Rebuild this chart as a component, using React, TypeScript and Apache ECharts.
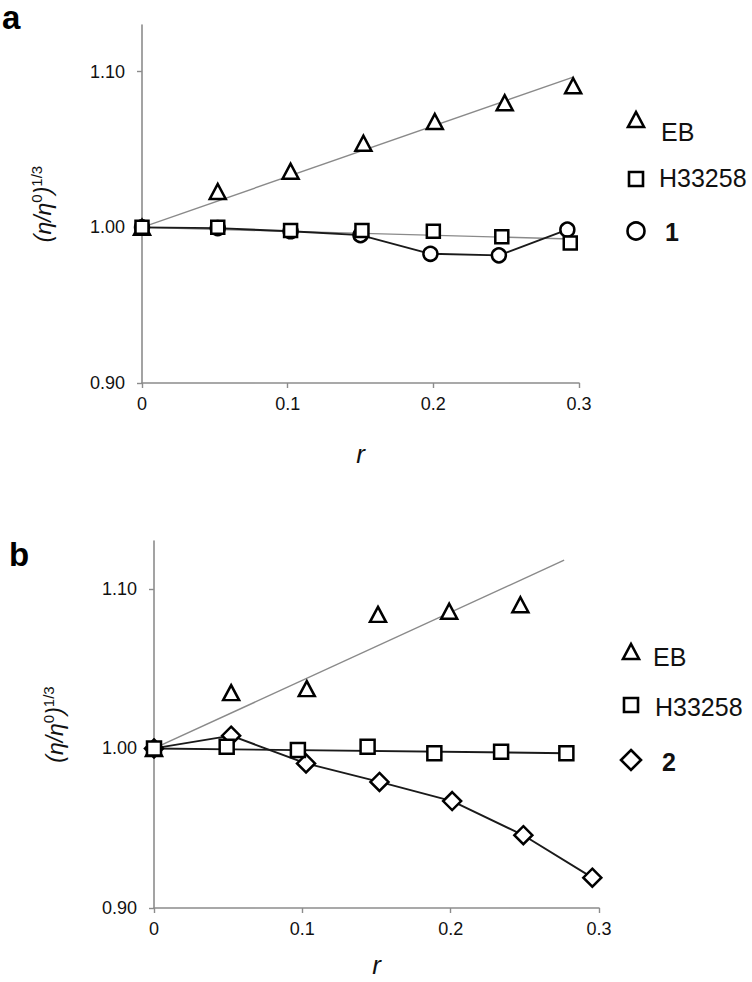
import React, { useEffect, useRef } from "react";
import * as echarts from "echarts";

// ---------- data: panel a ----------
const aEbX = [0, 0.052, 0.102, 0.152, 0.201, 0.249, 0.296];
const aEbY = [1.0, 1.023, 1.036, 1.054, 1.068, 1.08, 1.091];
const aEbTrendX = [0, 0.296];
const aEbTrendY = [1.0, 1.0965];

const aHX = [0, 0.052, 0.102, 0.151, 0.2, 0.247, 0.294];
const aHY = [1.0, 1.0, 0.998, 0.998, 0.9975, 0.994, 0.99];
const aHTrendX = [0, 0.294];
const aHTrendY = [1.0, 0.9925];

const a1X = [0, 0.052, 0.102, 0.15, 0.198, 0.245, 0.292];
const a1Y = [1.0, 0.9995, 0.9975, 0.995, 0.983, 0.982, 0.9985];

// ---------- data: panel b ----------
const bEbX = [0, 0.052, 0.103, 0.151, 0.199, 0.247];
const bEbY = [1.0, 1.035, 1.0375, 1.084, 1.086, 1.09];
const bEbTrendX = [0, 0.2765];
const bEbTrendY = [1.0, 1.118];

const bHX = [0, 0.049, 0.097, 0.144, 0.189, 0.234, 0.278];
const bHY = [1.0, 1.001, 0.999, 1.001, 0.997, 0.998, 0.997];
const bHTrendX = [0, 0.278];
const bHTrendY = [1.0, 0.997];

const b2X = [0, 0.052, 0.1025, 0.152, 0.201, 0.249, 0.2955];
const b2Y = [1.0, 1.008, 0.9906, 0.979, 0.967, 0.9456, 0.919];

// ---------- axis ticks ----------
const yTicks = [0.9, 1.0, 1.1];

const FONT = "'Liberation Sans', Arial, sans-serif";
const AXIS_GRAY = "#8c8c8c";
const TREND_GRAY = "#8a8a8a";
const INK = "#111111";

const zip = (xs: number[], ys: number[]) => xs.map((x, i) => [x, ys[i]]);

function xAxisOf(grid: number, nameGap: number) {
  return {
    type: "value",
    gridIndex: grid,
    min: 0,
    max: 0.3,
    interval: 0.1,
    axisLine: { show: true, onZero: false, lineStyle: { color: AXIS_GRAY, width: 1.6 } },
    axisTick: { show: true, length: 5, lineStyle: { color: AXIS_GRAY, width: 1.4 } },
    splitLine: { show: false },
    axisLabel: {
      fontSize: 18,
      color: INK,
      fontFamily: FONT,
      margin: 12,
      formatter: (v: number) => (v === 0 ? "0" : v.toFixed(1)),
    },
    name: "r",
    nameLocation: "middle",
    nameGap,
    nameTextStyle: { fontSize: 26, fontStyle: "italic", color: INK, fontFamily: FONT },
  };
}

function yAxisOf(grid: number, nameGap: number) {
  return {
    type: "value",
    gridIndex: grid,
    min: 0.9,
    max: 1.13,
    axisLine: { show: true, onZero: false, lineStyle: { color: AXIS_GRAY, width: 1.6 } },
    axisTick: { show: true, length: 5, customValues: yTicks, lineStyle: { color: AXIS_GRAY, width: 1.4 } },
    splitLine: { show: false },
    axisLabel: {
      customValues: yTicks,
      fontSize: 18,
      color: INK,
      fontFamily: FONT,
      margin: 17,
      formatter: (v: number) => v.toFixed(2),
    },
    name: "{i|(η/η}{s|0}{i|)}{s|1/3}",
    nameLocation: "middle",
    nameRotate: 90,
    nameGap,
    nameTextStyle: {
      fontFamily: FONT,
      color: INK,
      rich: {
        i: { fontSize: 23, fontStyle: "italic", fontFamily: FONT, color: INK },
        s: { fontSize: 15, fontFamily: FONT, color: INK, padding: [0, 0, 12, 0] },
      },
    },
  };
}

const markerStyle = { color: "#ffffff", borderColor: "#000000", borderWidth: 2.5, opacity: 1 };

function trend(name: string, g: number, xs: number[], ys: number[], color: string, width: number) {
  return {
    name,
    type: "line",
    xAxisIndex: g,
    yAxisIndex: g,
    data: zip(xs, ys),
    symbol: "none",
    lineStyle: { color, width },
    z: 2,
  };
}

function marks(name: string, g: number, xs: number[], ys: number[], symbol: string, size: any) {
  return {
    name,
    type: "scatter",
    xAxisIndex: g,
    yAxisIndex: g,
    data: zip(xs, ys),
    symbol,
    symbolSize: size,
    itemStyle: markerStyle,
    z: 4,
  };
}

function joined(name: string, g: number, xs: number[], ys: number[], symbol: string, size: any) {
  return {
    name,
    type: "line",
    xAxisIndex: g,
    yAxisIndex: g,
    data: zip(xs, ys),
    symbol,
    symbolSize: size,
    showAllSymbol: true,
    itemStyle: markerStyle,
    lineStyle: { color: "#1a1a1a", width: 1.9 },
    z: 3,
  };
}

function legendGraphics(
  labels: string[],
  bold: boolean[],
  iconX: number,
  iconY: number[],
  textX: number[],
  textY: number[],
  last: "circle" | "diamond"
) {
  const st = { fill: "#ffffff", stroke: "#000000", lineWidth: 2.6 };
  const els: any[] = [];
  els.push({
    type: "polygon",
    shape: { points: [[iconX - 8, iconY[0] + 7], [iconX + 8, iconY[0] + 7], [iconX, iconY[0] - 8]] },
    style: st,
  });
  els.push({ type: "rect", shape: { x: iconX - 7, y: iconY[1] - 7, width: 14, height: 14 }, style: st });
  if (last === "circle") {
    els.push({ type: "circle", shape: { cx: iconX, cy: iconY[2], r: 8.5 }, style: st });
  } else {
    els.push({
      type: "polygon",
      shape: {
        points: [[iconX, iconY[2] - 10], [iconX + 10, iconY[2]], [iconX, iconY[2] + 10], [iconX - 10, iconY[2]]],
      },
      style: st,
    });
  }
  labels.forEach((t, i) => {
    els.push({
      type: "text",
      x: textX[i],
      y: textY[i],
      style: {
        text: t,
        fontSize: 25,
        fontWeight: bold[i] ? "bold" : "normal",
        fontFamily: FONT,
        fill: INK,
        verticalAlign: "middle",
      },
    });
  });
  return els;
}

export default function App() {
  const ref = useRef<HTMLDivElement>(null);
  useEffect(() => {
    if (!ref.current) return;
    const chart = echarts.init(ref.current, undefined, { renderer: "svg" });
    const option: any = {
      animation: false,
      backgroundColor: "#ffffff",
      grid: [
        { left: 142, top: 25, width: 437, height: 358 },
        { left: 154, top: 541, width: 445, height: 367 },
      ],
      xAxis: [xAxisOf(0, 58), xAxisOf(1, 44)],
      yAxis: [yAxisOf(0, 86), yAxisOf(1, 86)],
      series: [
        trend("EB trend", 0, aEbTrendX, aEbTrendY, TREND_GRAY, 1.4),
        trend("H33258 trend", 0, aHTrendX, aHTrendY, TREND_GRAY, 1.4),
        marks("EB", 0, aEbX, aEbY, "triangle", [16, 15]),
        marks("H33258", 0, aHX, aHY, "rect", 13),
        joined("1", 0, a1X, a1Y, "circle", 14),

        trend("EB trend b", 1, bEbTrendX, bEbTrendY, TREND_GRAY, 1.4),
        trend("H33258 trend b", 1, bHTrendX, bHTrendY, "#1a1a1a", 1.9),
        marks("EB b", 1, bEbX, bEbY, "triangle", [16, 15]),
        marks("H33258 b", 1, bHX, bHY, "rect", 14),
        joined("2", 1, b2X, b2Y, "diamond", [18, 18]),
      ],
      graphic: [
        {
          type: "text",
          x: 2,
          y: 17,
          style: {
            text: "a",
            fontSize: 33,
            fontWeight: "bold",
            fontFamily: FONT,
            fill: "#000",
            verticalAlign: "middle",
          },
        },
        {
          type: "text",
          x: 9,
          y: 554,
          style: { text: "b", fontSize: 33, fontWeight: "bold", fontFamily: FONT, fill: "#000", verticalAlign: "middle" },
        },
        ...legendGraphics(
          ["EB", "H33258", "1"],
          [false, false, true],
          636,
          [120, 179, 231],
          [661, 659, 665],
          [132, 178, 232],
          "circle"
        ),
        ...legendGraphics(
          ["EB", "H33258", "2"],
          [false, false, true],
          631,
          [652, 705, 760],
          [653, 655, 662],
          [657, 707, 762],
          "diamond"
        ),
      ],
    };
    chart.setOption(option);
    return () => chart.dispose();
  }, []);
  return (
    <div
      ref={ref}
      style={{ position: "absolute", left: 0, top: 0, width: 752, height: 982, background: "#fff" }}
    />
  );
}
